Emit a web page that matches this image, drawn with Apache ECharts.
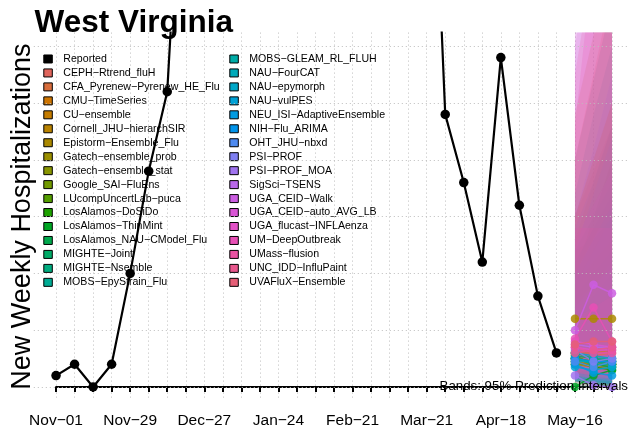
<!DOCTYPE html>
<html>
<head>
<meta charset="utf-8">
<script src="https://cdn.jsdelivr.net/npm/echarts@6/dist/echarts.min.js"></script>
<style>
  html, body { margin: 0; padding: 0; background: #fff; }
  #chart { width: 629px; height: 435px; }
</style>
</head>
<body>
<div id="chart"></div>
<script>
// Week index 0 = Nov-01; ticks every week, labels every 4 weeks.
const tickLabels = ['Nov−01', 'Nov−29', 'Dec−27', 'Jan−24', 'Feb−21', 'Mar−21', 'Apr−18', 'May−16'];
const tickLabelWeeks = [0, 4, 8, 12, 16, 20, 24, 28];
const lastWeek = 30;

// Reported weekly hospitalizations (weeks 0..27). Mid-season weeks sit far above the plotted range.
const reported = [2, 4, 0, 4, 20, 38, 52, 110,
  null, null, null, null, null, null, null, null, null, null, null, null,
  125, 48, 36, 22, 58, 32, 16, 6];

// Forecast target weeks (1-3 weeks ahead)
const forecastWeeks = [28, 29, 30];

const models = [
  'CEPH−Rtrend_fluH', 'CFA_Pyrenew−Pyrenew_HE_Flu', 'CMU−TimeSeries', 'CU−ensemble',
  'Cornell_JHU−hierarchSIR', 'Epistorm−Ensemble_Flu', 'Gatech−ensemble_prob', 'Gatech−ensemble_stat',
  'Google_SAI−FluEns', 'LUcompUncertLab−puca', 'LosAlamos−DoSiDo', 'LosAlamos−ThinMint',
  'LosAlamos_NAU−CModel_Flu', 'MIGHTE−Joint', 'MIGHTE−Nsemble', 'MOBS−EpyStrain_Flu',
  'MOBS−GLEAM_RL_FLUH', 'NAU−FourCAT', 'NAU−epymorph', 'NAU−vulPES',
  'NEU_ISI−AdaptiveEnsemble', 'NIH−Flu_ARIMA', 'OHT_JHU−nbxd', 'PSI−PROF',
  'PSI−PROF_MOA', 'SigSci−TSENS', 'UGA_CEID−Walk', 'UGA_CEID−auto_AVG_LB',
  'UGA_flucast−INFLAenza', 'UM−DeepOutbreak', 'UMass−flusion', 'UNC_IDD−InfluPaint',
  'UVAFluX−Ensemble'
];

// Median forecasts per model at the three target weeks
const median = [
  [5, 5.5, 6], [6, 6, 6.5], [5, 4.5, 4], [4.5, 4, 4],
  [6, 5, 4.5], [12, 12, 12], [4, 3.5, 3.5], [4, 4, 4],
  [5, 4.5, 4], [5.5, 4, 3.5], [4.5, 3.5, 3], [0, 2, 3],
  [5, 4, 3.5], [5.5, 5, 4.5], [5, 4.5, 4], [6, 5, 5],
  [5, 4, 4], [4.5, 4.5, 4.5], [6, 5.5, 5], [3.5, 3, 3.5],
  [4, 2.5, 2], [5, 4.5, 4.5], [4.5, 3.5, 4.5], [6.5, 4.5, 5],
  [2, 0.3, 0], [7.5, 7, 7], [10, 18, 16.5], [8, 7.5, 7],
  [7, 6.5, 6.5], [8.5, 14, 8], [7, 6, 6], [6, 6.5, 7],
  [7.5, 8, 8]
];

// 95% prediction interval bounds per model
const lo95 = [
  [1, 0.5, 0], [2, 1.5, 1], [1.5, 1, 0.5], [0.5, 0, 0],
  [2, 1, 0.5], [4, 3, 2], [1, 0.5, 0], [1.5, 1, 0.5],
  [1, 0.5, 0], [1.5, 0.5, 0], [1, 0.5, 0], [0, 0, 0],
  [1, 0.5, 0], [2, 1.5, 1], [1.5, 1, 0.5], [2, 1, 0.5],
  [1, 0.5, 0.5], [1.5, 1.5, 1], [2, 1.5, 1], [1, 0.5, 0.5],
  [1, 0.5, 0], [1.5, 1, 0.5], [1, 0.5, 0.5], [2, 1, 1],
  [0, 0, 0], [2.5, 2, 1.5], [3, 4, 3], [2.5, 2, 2],
  [2, 1.5, 1.5], [2.5, 3, 2], [2, 1.5, 1], [1.5, 1.5, 1.5],
  [2.5, 2, 2]
];
const hi95 = [
  [30, 38, 46], [22, 28, 34], [18, 22, 26], [48, 62, 76],
  [26, 36, 46], [24, 26, 28], [16, 20, 24], [18, 22, 26],
  [30, 40, 50], [20, 30, 40], [24, 30, 36], [12, 16, 20],
  [40, 54, 68], [20, 26, 30], [22, 28, 34], [34, 48, 60],
  [18, 24, 30], [15, 18, 21], [28, 36, 46], [14, 18, 22],
  [20, 26, 32], [24, 34, 44], [30, 42, 55], [26, 32, 38],
  [12, 14, 16], [70, 90, 110], [60, 80, 95], [28, 28, 28],
  [66, 88, 105], [46, 76, 62], [55, 75, 95], [40, 55, 70],
  [30, 40, 50]
];

const gridValues = [0, 10, 20, 30, 40, 50, 60];

// ---- styling helpers ----
const FONT = '"Liberation Sans", Arial, Helvetica, sans-serif';

// HCL (polar Luv) to hex, used for the model palette
function hclHex(h, c, l) {
  const hr = h * Math.PI / 180;
  const U = c * Math.cos(hr), V = c * Math.sin(hr);
  const Xn = 95.047, Yn = 100, Zn = 108.883;
  const den = Xn + 15 * Yn + 3 * Zn;
  const un = 4 * Xn / den, vn = 9 * Yn / den;
  const Y = l > 8 ? Yn * Math.pow((l + 16) / 116, 3) : Yn * l / 903.3;
  const up = U / (13 * l) + un, vp = V / (13 * l) + vn;
  const X = Y * 9 * up / (4 * vp);
  const Z = Y * (12 - 3 * up - 20 * vp) / (4 * vp);
  const x = X / 100, y = Y / 100, z = Z / 100;
  const lin = [
    3.2404542 * x - 1.5371385 * y - 0.4985314 * z,
    -0.9692660 * x + 1.8760108 * y + 0.0415560 * z,
    0.0556434 * x - 0.2040259 * y + 1.0572252 * z
  ];
  return '#' + lin.map(v => {
    let g = v <= 0.0031308 ? 12.92 * v : 1.055 * Math.pow(v, 1 / 2.4) - 0.055;
    g = Math.max(0, Math.min(1, g));
    return Math.round(g * 255).toString(16).padStart(2, '0');
  }).join('');
}
function withAlpha(hex, a) {
  const n = parseInt(hex.slice(1), 16);
  return 'rgba(' + (n >> 16) + ',' + ((n >> 8) & 255) + ',' + (n & 255) + ',' + a + ')';
}

const colors = models.map((m, i) => hclHex(15 + 360 * i / models.length, 95, 58));
const bandAlpha = 0.18;

// ---- layout ----
const pxPerWeek = 18.533;
const plotLeft = 33.8, plotRight = 629, plotTop = 32.6, plotHeight = 368;
const xMin = -1.2, xMax = xMin + (plotRight - plotLeft) / pxPerWeek;
const yMin = -2.4, yMax = 62.4;
const axisLeft = plotLeft + (0 - xMin) * pxPerWeek;
const axisWidth = lastWeek * pxPerWeek;

const dotted = { color: '#bdbdbd', type: [1, 3], width: 1 };

const series = [];

// horizontal reference lines
series.push({
  type: 'line', xAxisIndex: 0, yAxisIndex: 0, data: [], silent: true, z: 0,
  markLine: {
    silent: true, symbol: 'none', label: { show: false }, animation: false,
    lineStyle: dotted,
    data: gridValues.map(v => ({ yAxis: v }))
  }
});

series.push({
  name: 'Reported', type: 'line', xAxisIndex: 0, yAxisIndex: 0,
  data: reported.map((v, i) => [i, v == null ? '-' : v]),
  color: '#000', lineStyle: { width: 2.2, color: '#000' },
  symbol: 'circle', symbolSize: 9.5, showAllSymbol: true,
  itemStyle: { color: '#000' }, connectNulls: false, clip: true, z: 6,
  emphasis: { disabled: true }
});

// median lines (listed first so legend takes their colour)
models.forEach((m, i) => {
  series.push({
    name: m, type: 'line', xAxisIndex: 0, yAxisIndex: 0,
    data: forecastWeeks.map((w, h) => [w, median[i][h]]),
    color: colors[i],
    lineStyle: { width: 1.5, color: colors[i], opacity: 0.85 },
    symbol: 'circle', symbolSize: 8.5,
    itemStyle: { color: colors[i], opacity: 0.85 },
    clip: true, z: 4, emphasis: { disabled: true }
  });
});

// 95% prediction interval bands
models.forEach((m, i) => {
  series.push({
    name: m, type: 'custom', xAxisIndex: 0, yAxisIndex: 0,
    data: forecastWeeks.map((w, h) => [w, lo95[i][h], hi95[i][h]]),
    encode: { x: 0, y: [1, 2] },
    clip: true, z: 2, silent: true,
    renderItem: function (params, api) {
      if (params.dataIndex !== 0) return;
      const pts = [];
      forecastWeeks.forEach((w, h) => pts.push(api.coord([w, hi95[i][h]])));
      for (let h = forecastWeeks.length - 1; h >= 0; h--) pts.push(api.coord([forecastWeeks[h], lo95[i][h]]));
      return { type: 'polygon', shape: { points: pts }, style: { fill: withAlpha(colors[i], bandAlpha), stroke: null } };
    }
  });
});

const legendCommon = {
  orient: 'vertical', padding: 0, itemWidth: 8.5, itemHeight: 8, itemGap: 0,
  icon: 'rect', selectedMode: false,
  itemStyle: { borderColor: '#000', borderWidth: 1, opacity: 1 },
  textStyle: { fontSize: 10.6, lineHeight: 13.96, color: '#000', fontFamily: FONT, padding: [0, 0, 0, 6] }
};

const option = {
  animation: false,
  backgroundColor: '#fff',
  title: {
    text: 'West Virginia', left: 34.5, top: 7, padding: 0,
    textStyle: { fontSize: 31.5, fontWeight: 'bold', color: '#000', fontFamily: FONT }
  },
  legend: [
    Object.assign({ left: 43.3, top: 52, data: ['Reported'].concat(models.slice(0, 16)) }, legendCommon),
    Object.assign({ left: 229.3, top: 52, data: models.slice(16) }, legendCommon)
  ],
  grid: [
    { left: plotLeft, top: plotTop, width: plotRight - plotLeft, height: plotHeight },
    { left: axisLeft, top: plotTop, width: axisWidth, height: plotHeight }
  ],
  xAxis: [
    { gridIndex: 0, type: 'value', min: xMin, max: xMax, show: false },
    {
      gridIndex: 1, type: 'value', min: 0, max: lastWeek, interval: 1,
      axisLine: { show: true, lineStyle: { color: '#000', width: 2 } },
      axisTick: { show: true, length: 5, lineStyle: { color: '#000', width: 2 } },
      axisLabel: {
        margin: 12, fontSize: 15.5, color: '#000', fontFamily: FONT,
        formatter: v => { const k = tickLabelWeeks.indexOf(v); return k < 0 ? '' : tickLabels[k]; }
      },
      splitLine: { show: true, lineStyle: dotted }
    }
  ],
  yAxis: [
    { gridIndex: 0, type: 'value', min: yMin, max: yMax, show: false },
    { gridIndex: 1, type: 'value', min: yMin, max: yMax, show: false }
  ],
  graphic: [
    {
      type: 'text', x: 22.5, y: plotTop + plotHeight / 2, rotation: Math.PI / 2, z: 10,
      style: { text: 'New Weekly Hospitalizations', fontSize: 27, fontFamily: FONT, fill: '#000', align: 'center', verticalAlign: 'middle' }
    },
    {
      type: 'text', x: 628, y: 386.5, z: 100, zlevel: 0,
      style: { text: 'Bands: 95% Prediction Intervals', fontSize: 13.3, fontFamily: FONT, fill: '#000', align: 'right', verticalAlign: 'middle' }
    }
  ],
  series: series
};

const chart = echarts.init(document.getElementById('chart'), null, { renderer: 'canvas' });
chart.setOption(option);
</script>
</body>
</html>
